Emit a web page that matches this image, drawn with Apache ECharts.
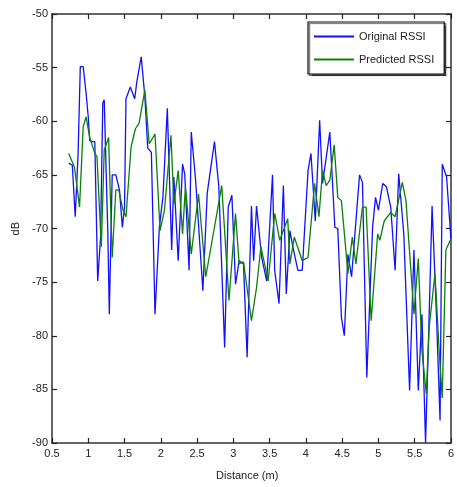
<!DOCTYPE html>
<html><head><meta charset="utf-8">
<script src="https://cdn.jsdelivr.net/npm/echarts@6/dist/echarts.min.js"></script>
<style>html,body{margin:0;padding:0;background:#fff}#c{width:457px;height:487px}</style>
</head><body><div id="c"></div>
<script>
const xTicks = [0.5,1,1.5,2,2.5,3,3.5,4,4.5,5,5.5,6];
const yTicks = [-90,-85,-80,-75,-70,-65,-60,-55,-50];

const xBlue = [0.73,0.78,0.82,0.86,0.89,0.93,0.97,1.0,1.02,1.06,1.09,1.13,1.17,1.2,1.22,1.27,1.29,1.33,1.38,1.43,1.47,1.5,1.52,1.58,1.64,1.67,1.73,1.78,1.82,1.87,1.92,1.98,2.03,2.09,2.15,2.18,2.24,2.3,2.33,2.39,2.42,2.48,2.58,2.64,2.74,2.8,2.88,2.93,2.98,3.03,3.08,3.14,3.19,3.25,3.28,3.32,3.39,3.46,3.54,3.57,3.63,3.69,3.73,3.78,3.82,3.89,3.95,4.03,4.07,4.13,4.19,4.23,4.33,4.4,4.44,4.49,4.53,4.58,4.63,4.74,4.78,4.84,4.92,4.96,5.0,5.06,5.11,5.17,5.23,5.28,5.35,5.43,5.49,5.55,5.6,5.65,5.69,5.74,5.8,5.85,5.88,5.94,6.0];
const yBlue = [-63.9,-64.1,-68.9,-63,-54.9,-54.9,-57.4,-59.6,-61.8,-61.9,-61.9,-74.9,-70.8,-58.3,-58,-70.5,-78,-65,-65,-66.4,-69.9,-68,-57.9,-56.8,-57.9,-56.3,-54,-57.7,-62.5,-62.9,-78,-69.9,-67,-58.8,-72,-65.2,-73,-64,-64.9,-73.9,-61,-65.5,-75.8,-66.7,-61.9,-66.1,-81.1,-68,-66.9,-75.2,-73,-73.3,-82,-67.9,-73,-67.9,-72.7,-74.9,-65,-73.9,-77,-66,-76.1,-70.2,-71.7,-73.9,-73.9,-64.6,-63,-69.3,-59.9,-65.8,-61,-69.9,-70,-78.3,-80,-72.4,-74.5,-65,-65.7,-83.9,-69.9,-67.1,-68.3,-65.8,-66.1,-68,-73.9,-64.9,-70.5,-85.1,-72,-85.1,-78,-90,-80.5,-67.9,-78,-87.9,-64,-65.2,-71];

const xGreen = [0.73,0.81,0.88,0.93,0.97,1.02,1.09,1.12,1.18,1.22,1.28,1.33,1.38,1.42,1.48,1.52,1.59,1.65,1.7,1.78,1.84,1.92,1.99,2.05,2.14,2.18,2.24,2.3,2.34,2.42,2.52,2.62,2.84,2.94,3.03,3.08,3.14,3.25,3.32,3.38,3.48,3.57,3.64,3.75,3.78,3.84,3.95,4.03,4.12,4.18,4.23,4.28,4.33,4.39,4.44,4.49,4.58,4.64,4.69,4.78,4.83,4.9,4.99,5.02,5.08,5.17,5.23,5.33,5.38,5.49,5.55,5.6,5.66,5.7,5.78,5.84,5.88,5.93,5.99];
const yGreen = [-63,-64.3,-68,-60.5,-59.6,-61.5,-63,-63.3,-71.7,-62.7,-61.5,-72.7,-66.4,-66.4,-68.3,-68.9,-62.4,-60.7,-60.2,-57.1,-62.1,-61.2,-70.2,-68.3,-61.3,-67.7,-64.6,-70.5,-66.1,-72.4,-66.8,-74.5,-66,-76.7,-68.6,-73.3,-73.1,-78.6,-75.5,-71.7,-74.9,-68.6,-71.1,-69.1,-73.3,-70.8,-73,-72.7,-65.8,-68.9,-64.6,-66,-65.5,-62.2,-67.1,-67.4,-74.2,-70.8,-73.3,-68,-68,-78.6,-70.5,-71.1,-69.3,-68.5,-68.9,-65.7,-67.4,-78,-72.8,-81.4,-85.4,-79.2,-74.2,-81.7,-85.8,-72,-71.1];

const pair = (xs, ys) => xs.map((x, i) => [x, ys[i]]);
const font = 'Liberation Sans, Arial, sans-serif';
const tc = '#222';
const chart = echarts.init(document.getElementById('c'), null, {renderer: 'canvas'});
const axX = (pos, show) => ({
  type: 'value', position: pos, min: xTicks[0], max: xTicks[xTicks.length - 1], interval: 0.5,
  axisLine: {show: true, onZero: false, lineStyle: {color: '#333', width: 1.5}},
  axisTick: {show: true, inside: true, length: 5, lineStyle: {color: '#222', width: 1.2}},
  axisLabel: {show: show, color: tc, fontSize: 11, fontFamily: font, margin: 5, formatter: v => String(v)},
  splitLine: {show: false}
});
const axY = (pos, show) => ({
  type: 'value', position: pos, min: yTicks[0], max: yTicks[yTicks.length - 1], interval: 5,
  axisLine: {show: true, onZero: false, lineStyle: {color: '#333', width: 1.5}},
  axisTick: {show: true, inside: true, length: 5, lineStyle: {color: '#222', width: 1.2}},
  axisLabel: {show: show, color: tc, fontSize: 11, fontFamily: font, margin: 4},
  splitLine: {show: false}
});
chart.setOption({
  animation: false,
  backgroundColor: '#fff',
  grid: {left: 52, right: 3, top: 14, bottom: 44},
  xAxis: [axX('bottom', true), axX('top', false)],
  yAxis: [axY('left', true), axY('right', false)],
  legend: {
    orient: 'vertical', left: 308, top: 22,
    data: ['Original RSSI', 'Predicted RSSI'],
    icon: 'rect', itemWidth: 40, itemHeight: 2, itemGap: 12,
    padding: [9, 10, 9, 6],
    borderColor: '#111', borderWidth: 1.2, backgroundColor: '#fff',
    shadowColor: 'rgba(0,0,0,0.6)', shadowOffsetX: 1.5, shadowOffsetY: 1.5, shadowBlur: 1,
    textStyle: {color: tc, fontSize: 11, fontFamily: font}
  },
  graphic: [
    {type: 'text', left: 10, top: 222, rotation: Math.PI / 2, style: {text: 'dB', fill: tc, font: '11px ' + font}},
    {type: 'text', left: 216, top: 470, style: {text: 'Distance (m)', fill: tc, font: '11px ' + font}}
  ],
  series: [
    {name: 'Original RSSI', type: 'line', data: pair(xBlue, yBlue), showSymbol: false,
     lineStyle: {color: '#1010ff', width: 1.3}, itemStyle: {color: '#1010ff'}},
    {name: 'Predicted RSSI', type: 'line', data: pair(xGreen, yGreen), showSymbol: false,
     lineStyle: {color: '#0a800a', width: 1.3}, itemStyle: {color: '#0a800a'}}
  ]
});
</script></body></html>
